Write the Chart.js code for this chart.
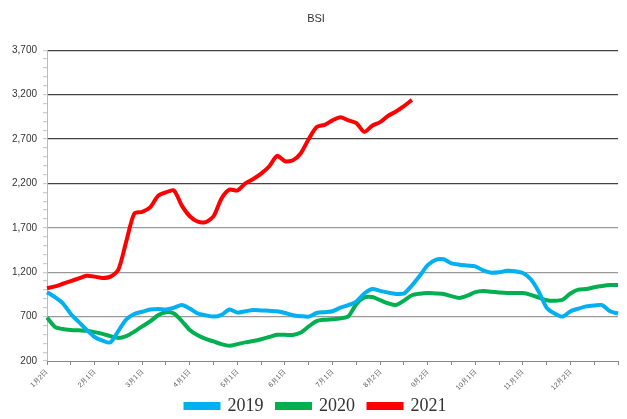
<!DOCTYPE html>
<html>
<head>
<meta charset="utf-8">
<script src="https://cdn.jsdelivr.net/npm/chart.js@4"></script>
<style>
  body { margin: 0; background: #fff; }
  #wrap { width: 627px; height: 419px; }
</style>
</head>
<body>
<div id="wrap"><canvas id="bsiChart"></canvas></div>
<script>
// roughly 5-day steps, a labelled tick every 6 points
const dates = [
    '1月2日', '1月7日', '1月12日', '1月17日', '1月22日', '1月27日',
    '2月1日', '2月6日', '2月11日', '2月16日', '2月21日', '2月26日',
    '3月1日', '3月6日', '3月11日', '3月16日', '3月21日', '3月26日',
    '4月1日', '4月6日', '4月11日', '4月16日', '4月21日', '4月26日',
    '5月1日', '5月6日', '5月11日', '5月16日', '5月21日', '5月26日',
    '6月1日', '6月6日', '6月11日', '6月16日', '6月21日', '6月26日',
    '7月1日', '7月6日', '7月11日', '7月16日', '7月21日', '7月26日',
    '8月2日', '8月7日', '8月12日', '8月17日', '8月22日', '8月27日',
    '9月2日', '9月7日', '9月12日', '9月17日', '9月22日', '9月27日',
    '10月1日', '10月6日', '10月11日', '10月16日', '10月21日', '10月26日',
    '11月1日', '11月6日', '11月11日', '11月16日', '11月21日', '11月26日',
    '12月2日', '12月7日', '12月12日', '12月17日', '12月22日', '12月27日',
    '12月31日'
];

const bsi2019 = [
    975, 920, 850, 730, 640, 550, 470, 430, 410, 540, 670, 730,
    755, 780, 785, 780, 800, 830, 790, 735, 715, 700, 720, 780,
    745, 760, 775, 770, 765, 760, 740, 715, 705, 700, 740, 750,
    760, 800, 830, 870, 960, 1010, 990, 970, 955, 960, 1050, 1160,
    1280, 1340, 1345, 1300, 1285, 1275, 1265, 1220, 1195, 1200, 1215, 1210,
    1190, 1120, 980, 800, 735, 700, 760, 790, 815, 825, 830, 760,
    735
];

const bsi2020 = [
    690, 585, 560, 550, 545, 540, 525, 505, 480, 460, 480, 530,
    590, 645, 715, 750, 735, 650, 550, 490, 450, 420, 390, 372,
    390, 410, 425, 445, 470, 495, 495, 493, 520, 590, 650, 665,
    670, 680, 705, 840, 915, 920, 885, 850, 830, 880, 940, 958,
    965, 960, 955, 930, 910, 935, 975, 988, 980, 972, 966, 965,
    965, 945, 915, 885, 878, 890, 960, 1003, 1010, 1030, 1045, 1055,
    1055
];

const bsi2021 = [
    1020, 1040, 1070, 1100, 1130, 1160, 1150, 1135, 1150, 1230, 1550, 1860,
    1880, 1930, 2060, 2100, 2120, 1950, 1830, 1770, 1765, 1830, 2030, 2130,
    2120, 2200, 2250, 2310, 2390, 2510, 2450, 2460, 2540, 2700, 2835, 2860,
    2910, 2945, 2910, 2880, 2780, 2850, 2890, 2960, 3010, 3070, 3140
];

const yMin = 200;
const yMax = 3700;

function series(label, data, color) {
    return {
        label: label,
        data: data,
        borderColor: color,
        backgroundColor: color,
        borderWidth: 4,
        pointRadius: 0,
        tension: 0.25,
        fill: false
    };
}

// keep the legend row tight against the bottom edge
const tightLegend = {
    id: 'tightLegend',
    afterInit(chart) {
        const legend = chart.legend;
        if (!legend) return;
        const fit = legend.fit;
        legend.fit = function () {
            fit.call(this);
            this.height = 22;
        };
    }
};

const ctx = document.getElementById('bsiChart').getContext('2d');
new Chart(ctx, {
    type: 'line',
    data: {
        labels: dates,
        datasets: [
            series('2019', bsi2019, '#00b0f0'),
            series('2020', bsi2020, '#00b050'),
            series('2021', bsi2021, '#ff0000')
        ]
    },
    plugins: [tightLegend],
    options: {
        responsive: true,
        maintainAspectRatio: false,
        animation: false,
        layout: { padding: { left: 6, right: 1, top: 0, bottom: 0 } },
        plugins: {
            title: {
                display: true,
                text: 'BSI',
                color: '#333',
                font: { family: 'Liberation Sans', size: 11, weight: 'normal' },
                padding: { top: 12, bottom: 25 }
            },
            legend: {
                position: 'bottom',
                labels: {
                    boxWidth: 33,
                    boxHeight: 4,
                    padding: 0,
                    color: '#333',
                    font: { family: 'Liberation Serif', size: 18 },
                    // extra room between entries without adding vertical padding
                    generateLabels: chart => {
                        const items = Chart.defaults.plugins.legend.labels.generateLabels(chart);
                        items.forEach((it, i) => { if (i < items.length - 1) it.text += '   '; });
                        return items;
                    }
                }
            },
            tooltip: { enabled: false }
        },
        scales: {
            x: {
                offset: false,
                border: { color: '#888' },
                grid: {
                    drawOnChartArea: false,
                    tickLength: 4,
                    color: c => (c.index % 3 === 0 ? '#888' : 'rgba(0,0,0,0)')
                },
                ticks: {
                    autoSkip: false,
                    maxRotation: 45,
                    minRotation: 45,
                    padding: 3,
                    color: '#555',
                    font: { family: 'Liberation Sans', size: 7 },
                    callback: function (value, index) {
                        return (index % 6 === 0 && index < dates.length - 1) ? this.getLabelForValue(value) : '';
                    }
                },
                afterFit: scale => { scale.height = 36; }
            },
            y: {
                min: yMin,
                max: yMax,
                border: { color: '#bbb' },
                grid: {
                    tickLength: 4,
                    tickColor: '#ccc',
                    color: c => {
                        const v = c.tick ? c.tick.value : 0;
                        if ((v - yMin) % 500 !== 0 || v === yMin) return 'rgba(0,0,0,0)';
                        return v >= 2200 ? '#444' : '#999';
                    },
                    lineWidth: 1.2
                },
                ticks: {
                    stepSize: 100,
                    autoSkip: false,
                    padding: 6,
                    color: '#333',
                    font: { family: 'Liberation Sans', size: 10 },
                    callback: v => ((v - yMin) % 500 === 0 ? v.toLocaleString('en-US') : '')
                }
            }
        }
    }
});
</script>
</body>
</html>
